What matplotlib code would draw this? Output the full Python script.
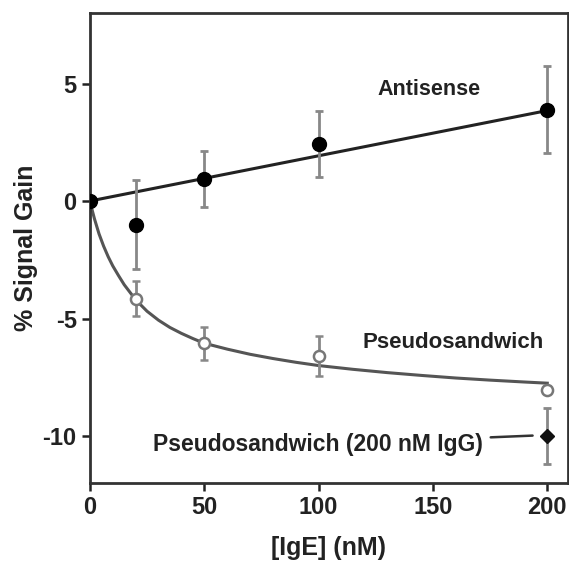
import numpy as np
import matplotlib.pyplot as plt
from matplotlib.ticker import FuncFormatter

plt.rcParams['font.family'] = ['Liberation Sans', 'DejaVu Sans']
plt.rcParams['font.weight'] = 'bold'
plt.rcParams['axes.labelweight'] = 'bold'

# IgE concentrations (nM)
conc = [0, 20, 50, 100, 200]

# Antisense: mean and error
anti_y = [0.0, -1.0, 0.93, 2.42, 3.88]
anti_err = [0.0, 1.9, 1.2, 1.4, 1.85]
anti_fit_x = [0, 200]
anti_fit_y = [0.0, 3.85]

# Pseudosandwich: mean and error
pseudo_y = [0.0, -4.15, -6.05, -6.6, -8.03]
pseudo_err = [0.0, 0.75, 0.7, 0.85, 0.15]
# fitted curve
pseudo_fit_x = [0, 1, 2, 4, 6, 8, 10, 12.5, 15, 17.5, 20, 25, 30, 35, 40, 45, 50,
                60, 70, 80, 90, 100, 115, 130, 145, 160, 175, 190, 200]
pseudo_fit_y = [0.0, -0.39, -0.76, -1.4, -1.92, -2.37, -2.76, -3.17, -3.56, -3.88,
                -4.2, -4.69, -5.07, -5.38, -5.63, -5.85, -6.05, -6.3, -6.52, -6.7,
                -6.86, -7.0, -7.16, -7.3, -7.42, -7.53, -7.62, -7.7, -7.75]

# Pseudosandwich with 200 nM IgG
igg_x = [200]
igg_y = [-10.0]
igg_err = [1.2]

fig = plt.figure(figsize=(5.69, 5.65), dpi=100)
ax = fig.add_axes([0.158, 0.145, 0.84, 0.832])

ax.plot(anti_fit_x, anti_fit_y, color='#222222', lw=2.2, zorder=2)
ax.plot(pseudo_fit_x, pseudo_fit_y, color='#555555', lw=2.2, zorder=2)

ax.errorbar(conc, anti_y, yerr=anti_err, fmt='o', color='black', ms=10,
            ecolor='#888888', elinewidth=2, capsize=3, capthick=2, zorder=4)
ax.errorbar(conc[1:], pseudo_y[1:], yerr=pseudo_err[1:], fmt='o', mfc='white',
            mec='#777777', mew=1.8, ms=8, ecolor='#888888', elinewidth=2,
            capsize=3, capthick=2, zorder=3)
ax.errorbar(igg_x, igg_y, yerr=igg_err, fmt='D', color='#111111', ms=7,
            ecolor='#888888', elinewidth=2, capsize=3, capthick=2, zorder=4)

ax.text(148.5, 4.75, 'Antisense', fontsize=15.5, ha='center', va='center', color='#222222')
ax.text(159, -6.0, 'Pseudosandwich', fontsize=16, ha='center', va='center', color='#222222')
ax.annotate('Pseudosandwich (200 nM IgG)', xy=(196, -9.97), xytext=(99.5, -10.36),
            fontsize=16.5, ha='center', va='center', color='#222222',
            arrowprops=dict(arrowstyle='-', color='#333333', lw=1.8, shrinkA=4, shrinkB=4))

ax.set_xlim(0, 209)
ax.set_ylim(-12, 8)
ax.set_xticks([0, 50, 100, 150, 200])
ax.set_yticks([-10, -5, 0, 5])
ax.yaxis.set_major_formatter(FuncFormatter(lambda v, p: f'{v:g}'))
ax.tick_params(direction='out', length=6, width=1.8, labelsize=17, colors='#222222')
for s in ax.spines.values():
    s.set_linewidth(2)
    s.set_color('#333333')

ax.set_xlabel('[IgE] (nM)', fontsize=18, labelpad=12, color='#222222')
ax.set_ylabel('% Signal Gain', fontsize=18, labelpad=3, color='#222222')

fig.savefig('out.png', dpi=100)
